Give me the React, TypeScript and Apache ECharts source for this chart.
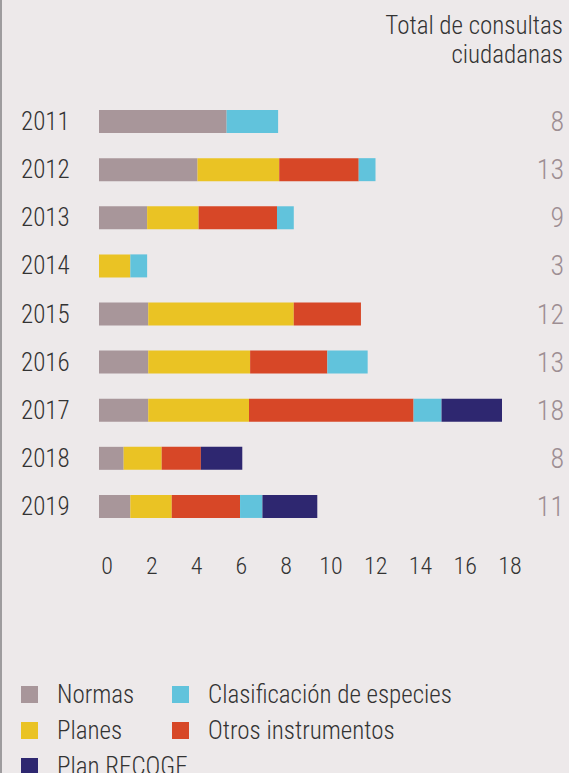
import React, { useEffect, useRef } from "react";
import * as echarts from "echarts";

const years = ["2011", "2012", "2013", "2014", "2015", "2016", "2017", "2018", "2019"];
const totals = ["8", "13", "9", "3", "12", "13", "18", "8", "11"];
const normas = [5.7, 4.4, 2.15, 0, 2.2, 2.2, 2.2, 1.1, 1.4];
const planes = [0, 3.65, 2.3, 1.4, 6.5, 4.55, 4.5, 1.7, 1.85];
const otros = [0, 3.55, 3.5, 0, 3.0, 3.45, 7.35, 1.75, 3.05];
const clasificacion = [2.3, 0.75, 0.75, 0.75, 0, 1.8, 1.25, 0, 1.0];
const recoge = [0, 0, 0, 0, 0, 0, 2.7, 1.85, 2.45];
const xTicks = { min: 0, max: 18, interval: 2 };
const titleLines = ["Total de consultas", "ciudadanas"];

const FONT = "'Liberation Sans Narrow', 'Roboto Condensed', 'Roboto', sans-serif";
const W = 300;
const TEXT = "#333333";
const COLORS = {
  normas: "#a8969a",
  planes: "#eac324",
  otros: "#d74727",
  clasif: "#61c3dc",
  recoge: "#2e2770",
};

export default function App() {
  const ref = useRef<HTMLDivElement>(null);
  useEffect(() => {
    if (!ref.current) return;
    const chart = echarts.init(ref.current, null, { renderer: "svg" });
    const mk = (name: string, data: number[], color: string) => ({
      name,
      type: "bar",
      stack: "total",
      data,
      barWidth: 23,
      itemStyle: { color },
      emphasis: { disabled: true },
    });
    const legendItem = (name: string, left: number, top: number) => ({
      data: [name],
      left,
      top,
      icon: "rect",
      itemWidth: 17,
      itemHeight: 17,
      padding: 0,
      selectedMode: false,
      textStyle: { fontFamily: FONT, fontWeight: W, fontSize: 25, color: TEXT, padding: [0, 0, 4, 14] },
    });
    const titleText = (text: string, y: number) => ({
      type: "text",
      x: 563,
      y,
      style: {
        text,
        fontFamily: FONT,
        fontWeight: W,
        fontSize: 25,
        fill: TEXT,
        align: "right",
        verticalAlign: "middle",
      },
    });
    chart.setOption({
      animation: false,
      backgroundColor: "#ede9ea",
      graphic: [
        { type: "rect", shape: { x: 0, y: 0, width: 2, height: 773 }, style: { fill: "#9e9c9e" } },
        titleText(titleLines[0], 25),
        titleText(titleLines[1], 54),
      ],
      legend: [
        legendItem("Normas", 21, 682),
        legendItem("Clasificación de especies", 172, 682),
        legendItem("Planes", 21, 718),
        legendItem("Otros instrumentos", 172, 718),
        legendItem("Plan RECOGE", 21, 754),
      ],
      grid: { left: 99, right: 67, top: 97.5, bottom: 242.5, containLabel: false },
      xAxis: {
        type: "value",
        min: xTicks.min,
        max: xTicks.max,
        interval: xTicks.interval,
        axisLine: { show: false },
        axisTick: { show: false },
        splitLine: { show: false },
        axisLabel: {
          fontFamily: FONT,
          fontWeight: W,
          fontSize: 24,
          color: TEXT,
          margin: 23,
          padding: [0, 0, 0, 16],
        },
      },
      yAxis: [
        {
          type: "category",
          data: years,
          inverse: true,
          axisLine: { show: false },
          axisTick: { show: false },
          axisLabel: { fontFamily: FONT, fontWeight: W, fontSize: 25, color: TEXT, align: "left", margin: 78 },
        },
        {
          type: "category",
          data: totals,
          inverse: true,
          position: "right",
          axisLine: { show: false },
          axisTick: { show: false },
          axisLabel: { fontFamily: FONT, fontWeight: W, fontSize: 28, color: "#9d8e93", align: "right", margin: 62 },
        },
      ],
      series: [
        mk("Normas", normas, COLORS.normas),
        mk("Planes", planes, COLORS.planes),
        mk("Otros instrumentos", otros, COLORS.otros),
        mk("Clasificación de especies", clasificacion, COLORS.clasif),
        mk("Plan RECOGE", recoge, COLORS.recoge),
      ],
    });
    return () => chart.dispose();
  }, []);
  return (
    <div
      ref={ref}
      style={{ position: "fixed", left: 0, top: 0, width: 569, height: 773 }}
    />
  );
}
